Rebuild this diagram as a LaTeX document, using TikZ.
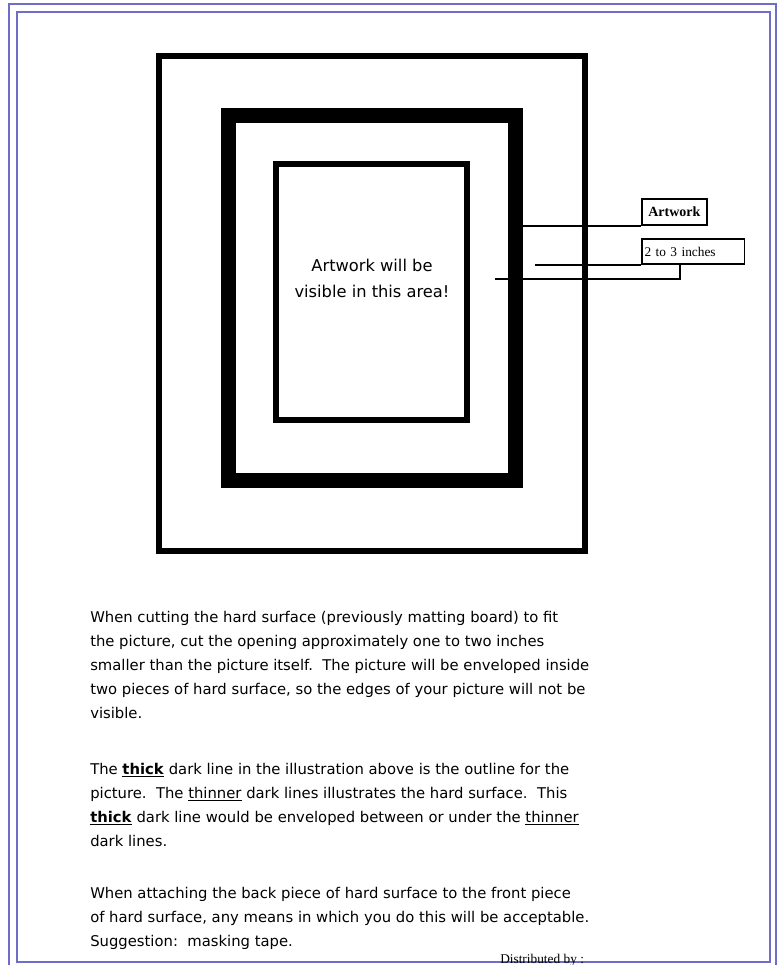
\documentclass[tikz,border=0pt]{standalone}
\usepackage{fontspec}
\setmainfont{Liberation Serif}
\newfontfamily\handfont{DejaVu Sans}
\usetikzlibrary{positioning}

\definecolor{pageblue}{RGB}{110,110,200}

\tikzset{
  frameline/.style={draw=black, line width=#1},
  leader/.style={draw=black, line width=1.5pt},
  labelbox/.style={draw=black, line width=1.3pt, inner sep=2pt, anchor=south west,
    font=\fontsize{10}{11}\selectfont},
  bodyline/.style={anchor=base west, inner sep=0pt, font=\handfont\fontsize{11.1}{12}\selectfont},
  areatext/.style={inner sep=0pt, font=\handfont\fontsize{12.2}{13}\selectfont},
}

\begin{document}
\begin{tikzpicture}[x=0.75pt, y=-0.75pt]
    \useasboundingbox (0,0) rectangle (782,965);
    \clip (0,0) rectangle (782,965);

    % Page border
    \draw[pageblue, line width=1.8pt] (9,4) rectangle (776,975);
    \draw[pageblue, line width=1.8pt] (17,12) rectangle (770,962);

    % Hard surface and outline of the picture
    \draw[frameline=4.5pt] (158.5,56) rectangle (585,551);
    \draw[frameline=11.25pt] (228.5,115.5) rectangle (515.5,480.5);
    \draw[frameline=4.5pt] (276,164) rectangle (467,420);

    % Opening
    \node[areatext] (area1) at (372,265) {Artwork will be};
    \node[areatext] (area2) at (372,291) {visible in this area!};

    % Labels
    \node[labelbox, minimum width=48.75pt, minimum height=19.5pt, font=\fontsize{10.5}{11}\selectfont] (artwork) at (641,226) {\textbf{Artwork}};
    \node[labelbox, text width=73pt, minimum height=18.75pt, align=left] (inches) at (641,265) {2 to 3 inches};

    % Leader lines
    \coordinate (lead1) at (523,226);
    \coordinate (lead2) at (535,265);
    \coordinate (lead3) at (495,278.5);
    \coordinate (bend3) at (680,278.5);
    \draw[leader] (lead1) -- (artwork.south west);
    \draw[leader] (lead2) -- (inches.south west);
    \draw[leader] (lead3) -- (bend3) -- (bend3 |- inches.south);

    % Text
    \node[bodyline] (p1a) at (90,622) {When cutting the hard surface (previously matting board) to fit};
    \node[bodyline] (p1b) at (90,646) {the picture, cut the opening approximately one to two inches};
    \node[bodyline] (p1c) at (90,670) {smaller than the picture itself.\ \ The picture will be enveloped inside};
    \node[bodyline] (p1d) at (90,694) {two pieces of hard surface, so the edges of your picture will not be};
    \node[bodyline] (p1e) at (90,718) {visible.};

    \node[bodyline] (p2a) at (90,774) {The \underline{\textbf{thick}} dark line in the illustration above is the outline for the};
    \node[bodyline] (p2b) at (90,798) {picture.\ \ The \underline{thinner} dark lines illustrates the hard surface.\ \ This};
    \node[bodyline] (p2c) at (90,822) {\underline{\textbf{thick}} dark line would be enveloped between or under the \underline{thinner}};
    \node[bodyline] (p2d) at (90,846) {dark lines.};

    \node[bodyline] (p3a) at (90,898) {When attaching the back piece of hard surface to the front piece};
    \node[bodyline] (p3b) at (90,922) {of hard surface, any means in which you do this will be acceptable.};
    \node[bodyline] (p3c) at (90,946) {Suggestion:\ \ masking tape.};

    \node[anchor=base west, inner sep=0pt, font=\fontsize{10}{11}\selectfont] (dist) at (500,963) {Distributed by :};
\end{tikzpicture}
\end{document}
